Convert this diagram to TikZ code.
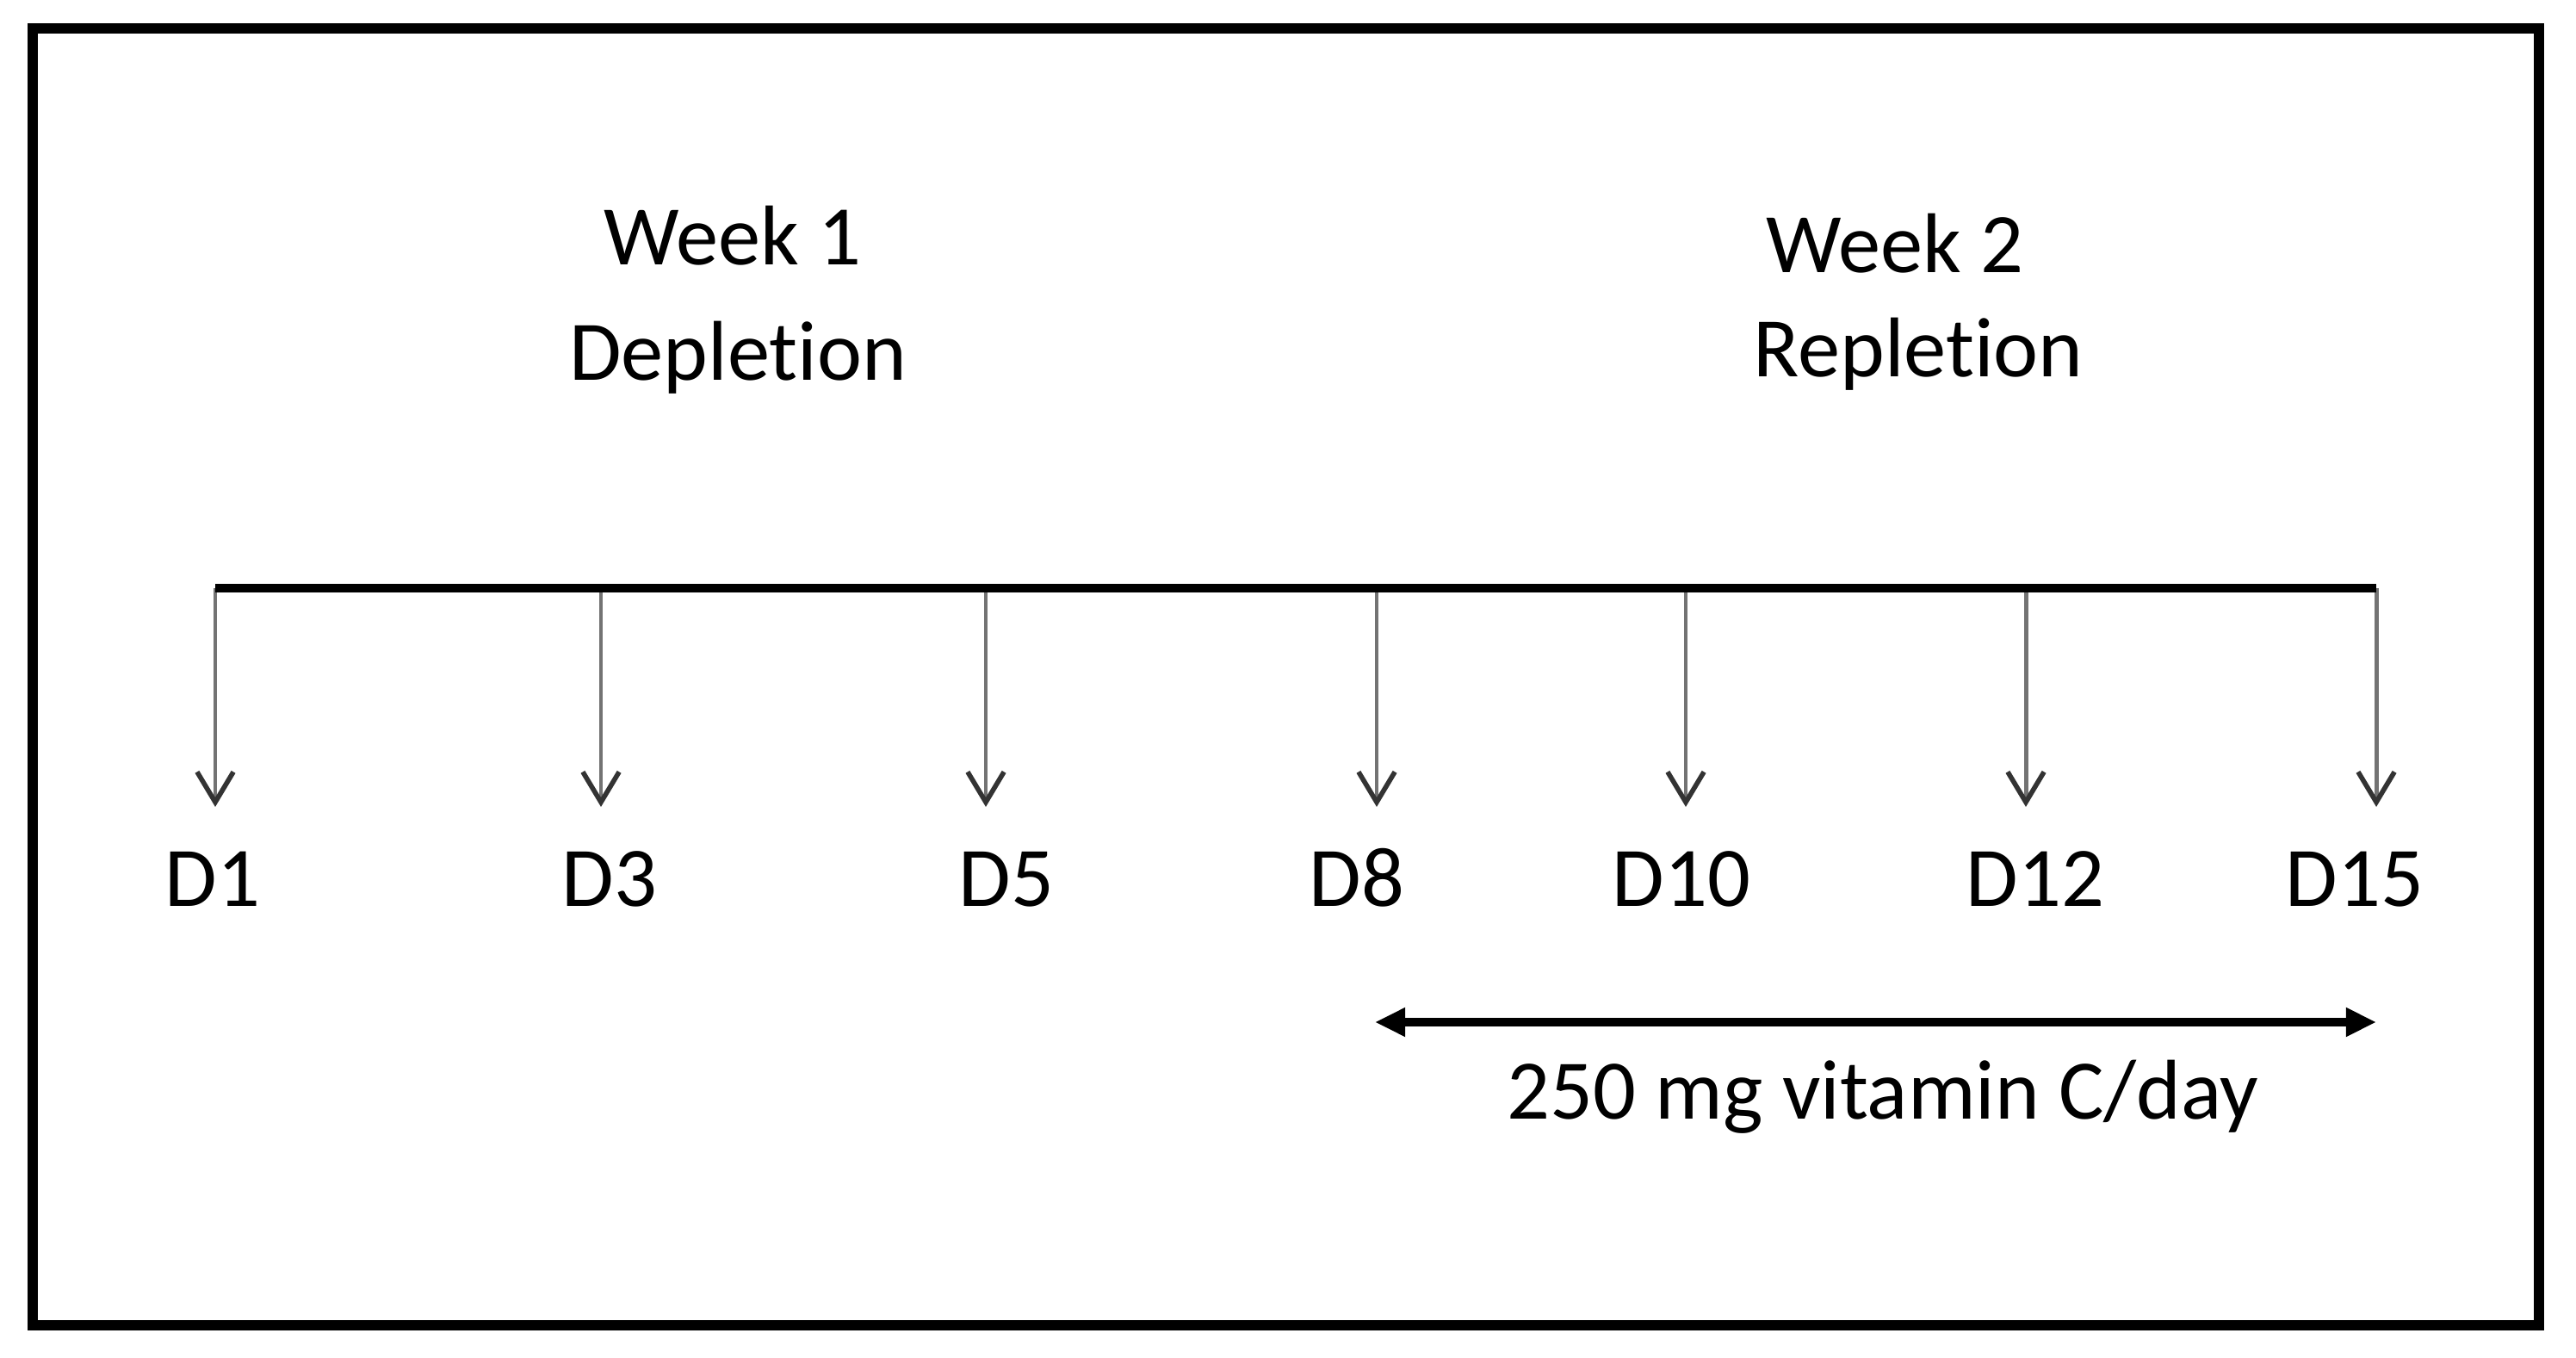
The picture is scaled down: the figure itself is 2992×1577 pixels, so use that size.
\documentclass[tikz,border=0pt]{standalone}
\usepackage{fontspec}
\setmainfont{Carlito}
\usetikzlibrary{positioning,arrows.meta}

\begin{document}
\begin{tikzpicture}[x=0.01cm,y=-0.01cm,
    lbl/.style={anchor=base,inner sep=0pt,font=\fontsize{28}{34}\selectfont},
    tick/.style={draw=black!55,line width=1.4pt,-{Straight Barb[length=10pt,width=12pt,line width=1.6pt,color=black!80]}},
    span/.style={line width=2.6pt,{Triangle[length=10pt,width=9pt]}-{Triangle[length=10pt,width=9pt]}}]
                \useasboundingbox (0,0) rectangle (2992,1577);
                %Frame
                \draw[line width=3.4pt] (38,33) rectangle (2949,1539);

                %Nodes
                \node[lbl] at (851,308)  (wk1)  {Week 1};
                \node[lbl] at (857,442)  (dep)  {Deplet\kern0pt ion};
                \node[lbl] at (2201,317) (wk2)  {Week 2};
                \node[lbl] at (2228,438) (rep)  {Replet\kern0pt ion};

                \node[lbl] at (247,1052)  (d1)  {D1};
                \node[lbl] at (708,1052)  (d3)  {D3};
                \node[lbl] at (1169,1052) (d5)  {D5};
                \node[lbl] at (1576,1052) (d8)  {D8};
                \node[lbl] at (1953,1052) (d10) {D10};
                \node[lbl] at (2364,1052) (d12) {D12};
                \node[lbl] at (2735,1052) (d15) {D15};

                \node[lbl] at (2187,1299) (vitc) {250 mg vitamin C/day};

                \coordinate (t1)  at (250,683);
                \coordinate (t3)  at (698,683);
                \coordinate (t5)  at (1145,683);
                \coordinate (t8)  at (1599,683);
                \coordinate (t10) at (1958,683);
                \coordinate (t12) at (2353,683);
                \coordinate (t15) at (2760,683);

                \coordinate (a1)  at (250,937);
                \coordinate (a3)  at (698,937);
                \coordinate (a5)  at (1145,937);
                \coordinate (a8)  at (1599,937);
                \coordinate (a10) at (1958,937);
                \coordinate (a12) at (2353,937);
                \coordinate (a15) at (2760,937);

                \coordinate (sl) at (1597,1187);
                \coordinate (sr) at (2760,1187);

                %Lines
                \draw[tick] (t1) -- (a1);
                \draw[tick] (t3) -- (a3);
                \draw[tick] (t5) -- (a5);
                \draw[tick] (t8) -- (a8);
                \draw[tick] (t10) -- (a10);
                \draw[tick] (t12) -- (a12);
                \draw[tick] (t15) -- (a15);
                \draw[line width=3.1pt] (t1) -- (t15);
                \draw[span] (sl) -- (sr);
\end{tikzpicture}
\end{document}
